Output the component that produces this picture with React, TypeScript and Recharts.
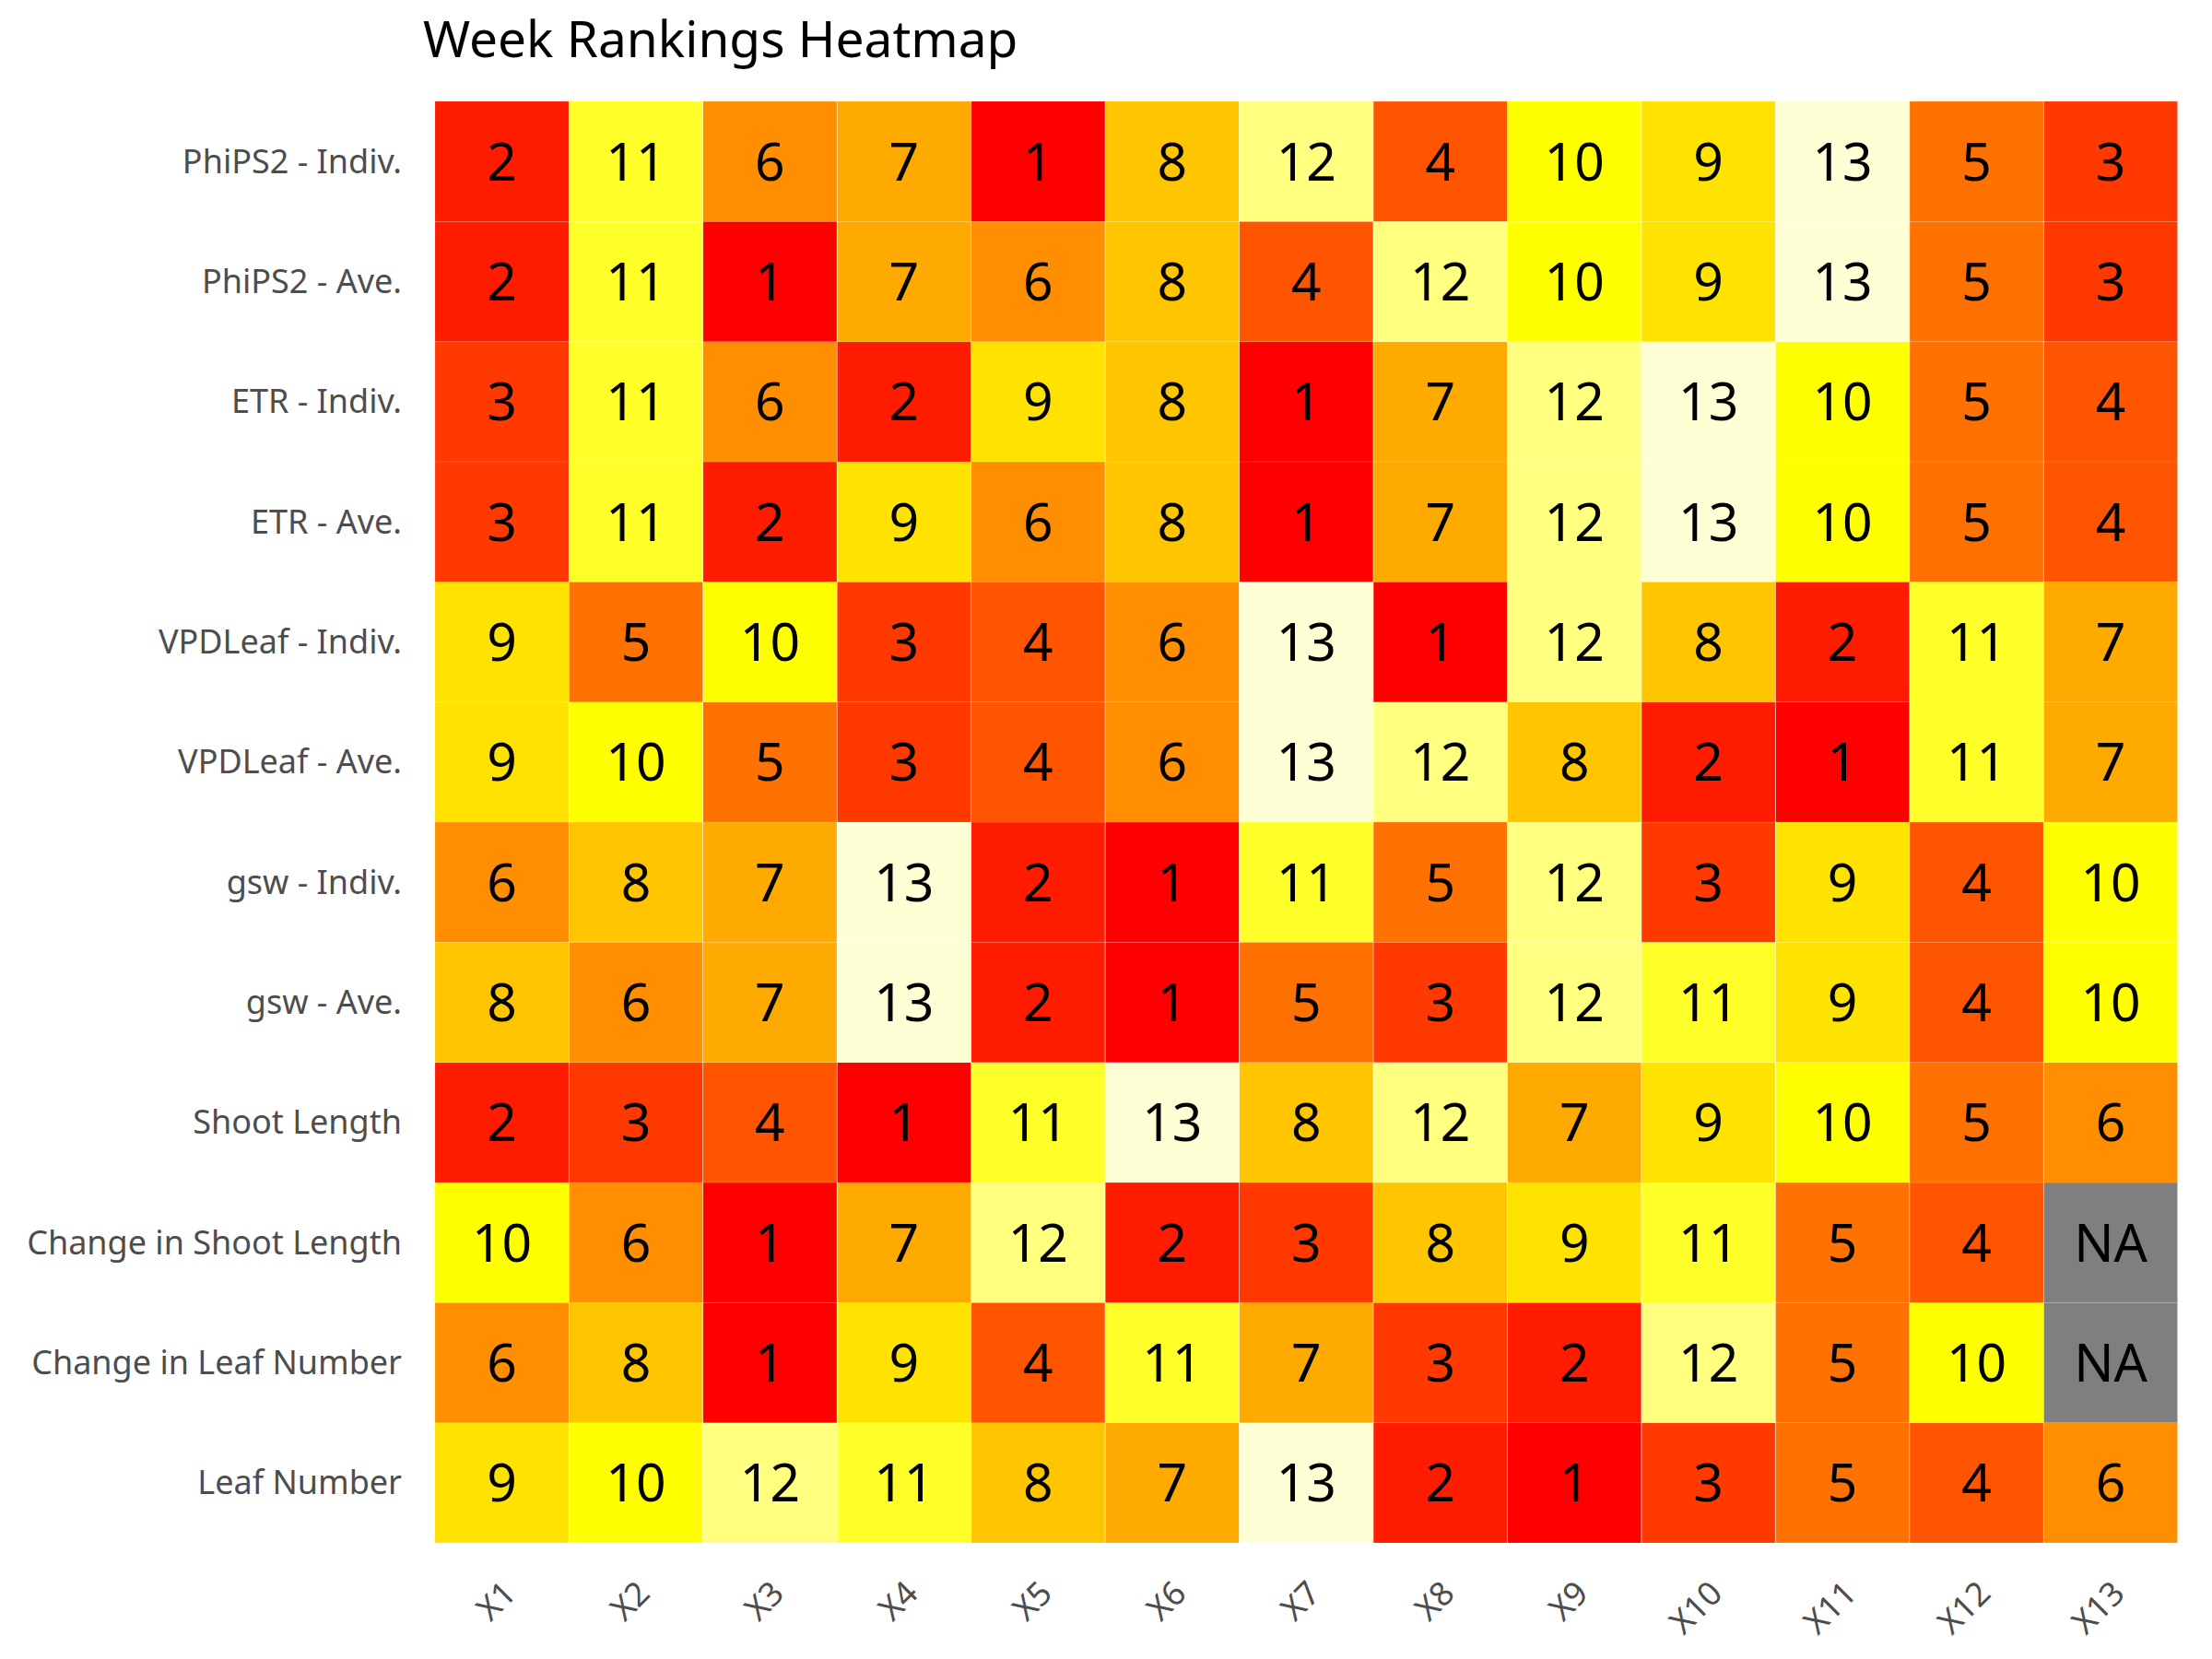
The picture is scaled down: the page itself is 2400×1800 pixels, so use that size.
import { Bar, BarChart, Cell, LabelList, XAxis, YAxis } from "recharts";

const columns = ["X1", "X2", "X3", "X4", "X5", "X6", "X7", "X8", "X9", "X10", "X11", "X12", "X13"];

// rows listed top to bottom as in the picture
const rowNames = [
  "PhiPS2 - Indiv.",
  "PhiPS2 - Ave.",
  "ETR - Indiv.",
  "ETR - Ave.",
  "VPDLeaf - Indiv.",
  "VPDLeaf - Ave.",
  "gsw - Indiv.",
  "gsw - Ave.",
  "Shoot Length",
  "Change in Shoot Length",
  "Change in Leaf Number",
  "Leaf Number",
];

const phips2Indiv = [2, 11, 6, 7, 1, 8, 12, 4, 10, 9, 13, 5, 3];
const phips2Ave = [2, 11, 1, 7, 6, 8, 4, 12, 10, 9, 13, 5, 3];
const etrIndiv = [3, 11, 6, 2, 9, 8, 1, 7, 12, 13, 10, 5, 4];
const etrAve = [3, 11, 2, 9, 6, 8, 1, 7, 12, 13, 10, 5, 4];
const vpdIndiv = [9, 5, 10, 3, 4, 6, 13, 1, 12, 8, 2, 11, 7];
const vpdAve = [9, 10, 5, 3, 4, 6, 13, 12, 8, 2, 1, 11, 7];
const gswIndiv = [6, 8, 7, 13, 2, 1, 11, 5, 12, 3, 9, 4, 10];
const gswAve = [8, 6, 7, 13, 2, 1, 5, 3, 12, 11, 9, 4, 10];
const shootLength = [2, 3, 4, 1, 11, 13, 8, 12, 7, 9, 10, 5, 6];
const changeShoot = [10, 6, 1, 7, 12, 2, 3, 8, 9, 11, 5, 4, null];
const changeLeaf = [6, 8, 1, 9, 4, 11, 7, 3, 2, 12, 5, 10, null];
const leafNumber = [9, 10, 12, 11, 8, 7, 13, 2, 1, 3, 5, 4, 6];

const rankRows: (number | null)[][] = [
  phips2Indiv, phips2Ave, etrIndiv, etrAve, vpdIndiv, vpdAve,
  gswIndiv, gswAve, shootLength, changeShoot, changeLeaf, leafNumber,
];

// heat.colors(13)
const heat = [
  "#FF0000", "#FF1C00", "#FF3900", "#FF5500", "#FF7100", "#FF8E00", "#FFAA00",
  "#FFC600", "#FFE300", "#FFFF00", "#FFFF2A", "#FFFF80", "#FFFFD5",
];
const naColor = "#7F7F7F";
const fillFor = (r: number | null) => (r == null ? naColor : heat[r - 1]);

// stack order: bottom row first
const stackOrder = rankRows.map((_, i) => rankRows.length - 1 - i);

const data = columns.map((col, c) => {
  const d: Record<string, string | number> = { col };
  rankRows.forEach((row, k) => {
    d["r" + k] = 1;
    d["t" + k] = row[c] == null ? "NA" : String(row[c]);
  });
  return d;
});

const yTicks = rowNames.map((_, i) => i + 0.5);

const YTick = (props: any) => {
  const idx = rowNames.length - 1 - Math.floor(props.payload.value);
  return (
    <text x={props.x - 28} y={props.y} dy="0.35em" textAnchor="end" fill="#4D4D4D" fontSize={36} fontFamily="Noto Sans">
      {rowNames[idx]}
    </text>
  );
};

const XTick = (props: any) => {
  const x = props.x + 17;
  const y = props.y + 49;
  return (
    <text x={x} y={y} textAnchor="end" fill="#4D4D4D" fontSize={36} fontFamily="Noto Sans" transform={`rotate(-45, ${x}, ${y})`}>
      {props.payload.value}
    </text>
  );
};

const CellLabel = (props: any) => {
  const { x, y, width, height, value } = props;
  return (
    <text x={x + width / 2} y={y + height / 2} dy="0.36em" textAnchor="middle" fill="#000" fontSize={57} fontFamily="Noto Sans">
      {value}
    </text>
  );
};

export default function App() {
  return (
    <div style={{ position: "absolute", left: 0, top: 0, width: 2400, height: 1800, background: "#fff" }}>
      <svg width={2400} height={110} style={{ position: "absolute", left: 0, top: 0 }}>
        <text x={459} y={62} fontSize={55} fontFamily="Noto Sans" fill="#000">
          Week Rankings Heatmap
        </text>
      </svg>
      <BarChart
        width={2400}
        height={1800}
        data={data}
        margin={{ top: 110, right: 37, bottom: 0, left: 0 }}
        barCategoryGap={0}
        barGap={0}
      >
        <XAxis dataKey="col" interval={0} axisLine={false} tickLine={false} height={126} tick={<XTick />} />
        <YAxis
          type="number"
          domain={[0, 12]}
          ticks={yTicks}
          interval={0}
          width={472}
          axisLine={false}
          tickLine={false}
          tick={<YTick />}
        />
        {stackOrder.map((k) => (
          <Bar key={k} dataKey={"r" + k} stackId="a" isAnimationActive={false}>
            {columns.map((_, c) => (
              <Cell key={c} fill={fillFor(rankRows[k][c])} stroke="rgba(255,255,255,0.12)" strokeWidth={1} />
            ))}
            <LabelList dataKey={"t" + k} content={<CellLabel />} />
          </Bar>
        ))}
      </BarChart>
    </div>
  );
}
